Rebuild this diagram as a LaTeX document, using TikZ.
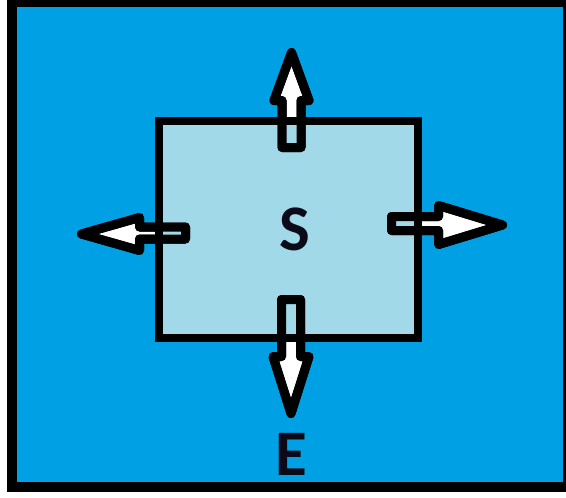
\documentclass[tikz,border=0pt]{standalone}
\usepackage{fontspec}
\newfontfamily\labelfont{Carlito}[BoldFont=* Bold]
\definecolor{outerblue}{RGB}{0,161,228}
\definecolor{innerblue}{RGB}{161,217,233}
\definecolor{labelink}{RGB}{10,10,24}
\begin{document}
\begin{tikzpicture}[x=1pt,y=-1pt,
  frame/.style={draw=black,line width=10pt},
  border/.style={draw=black,line width=8pt,line join=miter},
  blockarrow/.style={draw=black,fill=white,line width=9pt,line join=round},
  shaftfill/.style={fill=innerblue},
  letter/.style={font=\labelfont\bfseries\fontsize{65}{65}\selectfont,text=labelink,inner sep=0pt}]
  \useasboundingbox (0,0) rectangle (566,498);
  % outer field
  \fill[white] (0,0) rectangle (566,498);
  \fill[outerblue] (12,2) rectangle (568,486.5);
  \draw[frame] (12,2) rectangle (568,486.5);
  % inner square
  \node[fill=innerblue,minimum width=259pt,minimum height=217pt,inner sep=0pt] (sq) at (288.5,229.5) {};
  % arrow up
  \path[blockarrow] (282,147.5) -- (282,100.5) -- (274,100.5) -- (291.5,52.5) -- (309,100.5) -- (301,100.5) -- (301,147.5) -- cycle;
  \fill[shaftfill] (282,121) rectangle (301,147.5);
  \draw[blockarrow,fill=none] (282,147.5) -- (282,100.5) -- (274,100.5) -- (291.5,52.5) -- (309,100.5) -- (301,100.5) -- (301,147.5) -- cycle;
  % arrow down
  \path[blockarrow] (281.5,299.5) -- (281.5,356.5) -- (273,356.5) -- (291,413.5) -- (309,356.5) -- (300.5,356.5) -- (300.5,299.5) -- cycle;
  \fill[shaftfill] (281.5,299.5) rectangle (300.5,338);
  \draw[blockarrow,fill=none] (281.5,299.5) -- (281.5,356.5) -- (273,356.5) -- (291,413.5) -- (309,356.5) -- (300.5,356.5) -- (300.5,299.5) -- cycle;
  % arrow left
  \path[blockarrow] (185.5,227) -- (139.5,227) -- (139.5,217.5) -- (81.5,234) -- (139.5,250.5) -- (139.5,239) -- (185.5,239) -- cycle;
  \fill[shaftfill] (159,227) rectangle (185.5,239);
  \draw[blockarrow,fill=none] (185.5,227) -- (139.5,227) -- (139.5,217.5) -- (81.5,234) -- (139.5,250.5) -- (139.5,239) -- (185.5,239) -- cycle;
  % arrow right
  \path[blockarrow] (391.5,216.5) -- (438.5,216.5) -- (438.5,205.5) -- (502.5,225) -- (438.5,244.5) -- (438.5,230.5) -- (391.5,230.5) -- cycle;
  \fill[shaftfill] (391.5,216.5) rectangle (418,230.5);
  \draw[blockarrow,fill=none] (391.5,216.5) -- (438.5,216.5) -- (438.5,205.5) -- (502.5,225) -- (438.5,244.5) -- (438.5,230.5) -- (391.5,230.5) -- cycle;
  % square border on top of the shafts
  \draw[border] (sq.north west) rectangle (sq.south east);
  % labels
  \node[letter] (s) at (295,229) {S};
  \node[letter] (e) at (291.5,454) {E};
\end{tikzpicture}
\end{document}
